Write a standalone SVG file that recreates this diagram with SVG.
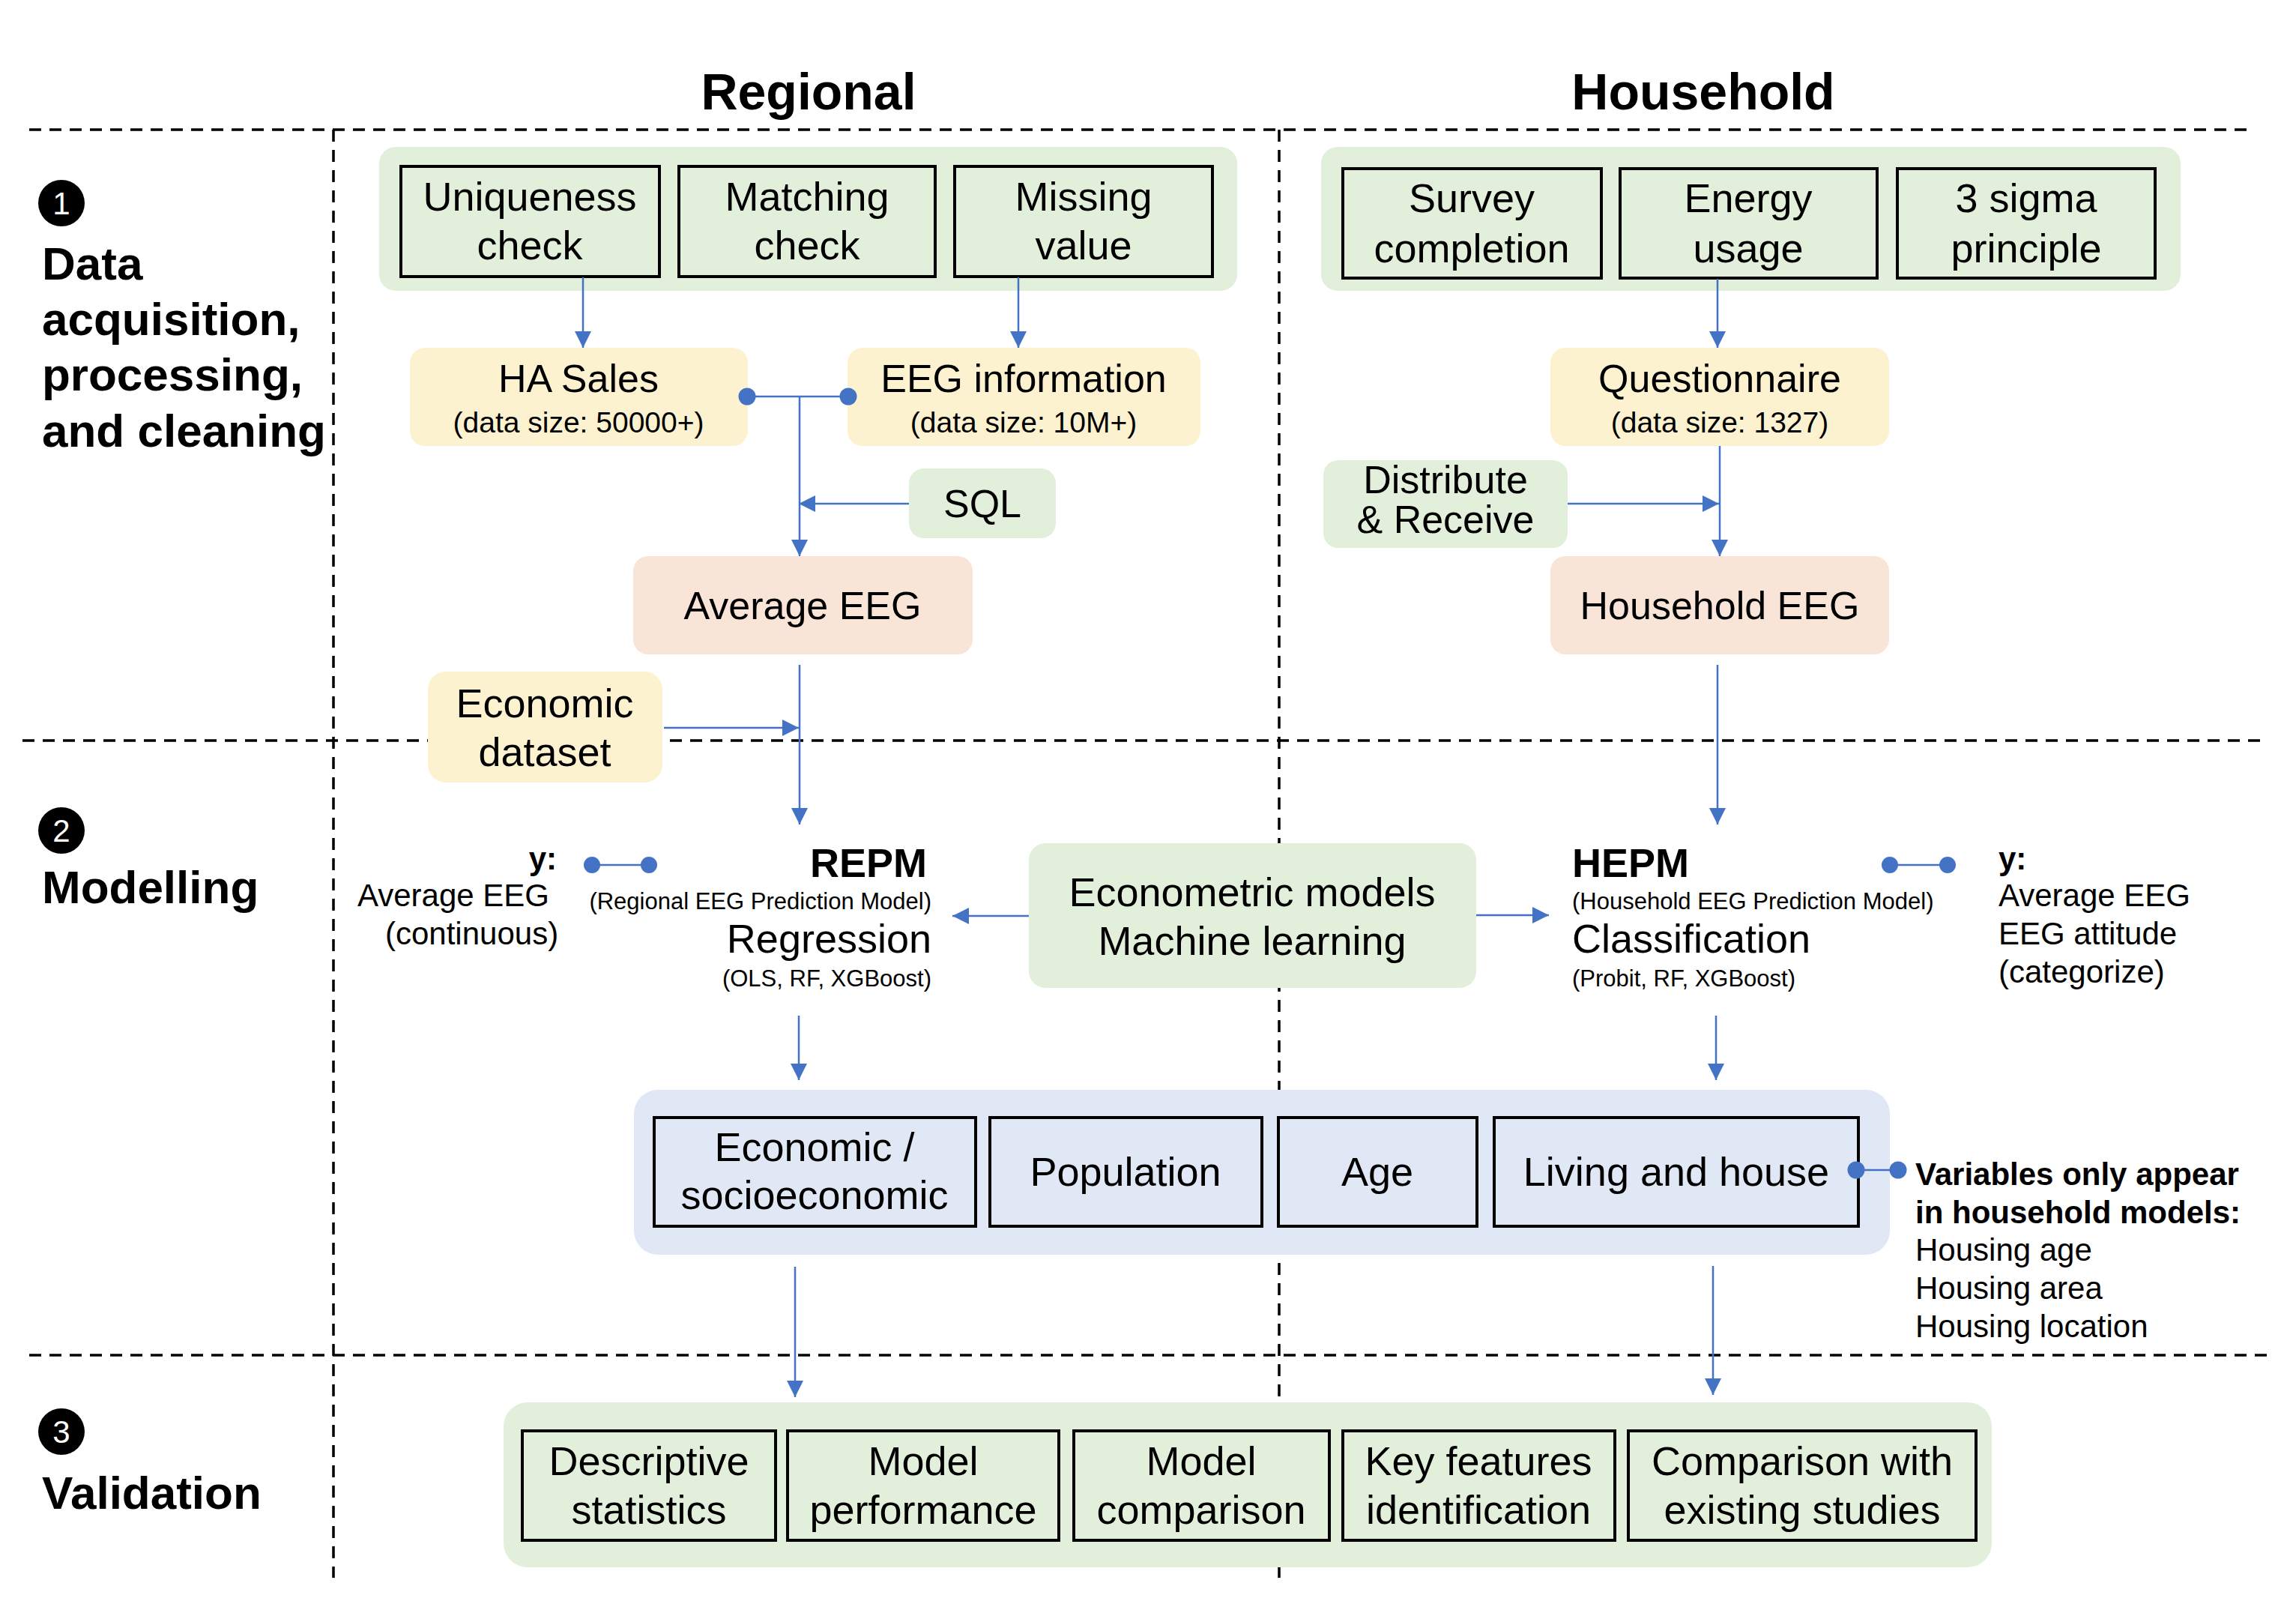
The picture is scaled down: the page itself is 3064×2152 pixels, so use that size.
<svg xmlns="http://www.w3.org/2000/svg" width="3064" height="2152" viewBox="0 0 3064 2152">
<defs>
<style>
text{font-family:"Liberation Sans",Arial,sans-serif;fill:#000}
.dash{stroke:#000;stroke-width:3.5;stroke-dasharray:16 11;fill:none}
.grn{fill:#E2EFDA}
.yel{fill:#FDF2D0}
.pch{fill:#F9E5D7}
.blu{fill:#DFE8F4}
.box{fill:none;stroke:#000;stroke-width:4}
.c{text-anchor:middle}
.e{text-anchor:end}
.b{font-weight:bold}
.t68{font-size:68px}
.t62{font-size:62px}
.t54{font-size:54px}
.t52{font-size:52px}
.t42{font-size:42px}
.t39{font-size:39px}
.t31{font-size:31px}
.con{stroke:#4472C4;stroke-width:2.5;fill:none}
.arr{marker-end:url(#ah)}
.dot{fill:#4472C4}
</style>
<marker id="ah" viewBox="0 0 22 22" refX="22" refY="11" markerWidth="22" markerHeight="22" markerUnits="userSpaceOnUse" orient="auto">
<path d="M0,0 L22,11 L0,22 Z" fill="#4472C4"/>
</marker>
</defs>
<rect width="3064" height="2152" fill="#fff"/>

<g id="grid">
<line class="dash" x1="39" y1="173" x2="3000" y2="173"/>
<line class="dash" x1="30" y1="988" x2="3020" y2="988"/>
<line class="dash" x1="39" y1="1808" x2="3025" y2="1808"/>
<line class="dash" x1="445" y1="173" x2="445" y2="2105"/>
<line class="dash" x1="1707" y1="173" x2="1707" y2="2105"/>
</g>

<g id="headers">
<text class="t68 b c" x="1079" y="146">Regional</text>
<text class="t68 b c" x="2273" y="146">Household</text>
</g>

<g id="stage1">
<circle cx="82" cy="271" r="31" fill="#000"/>
<text class="t42 c" x="82" y="286" style="fill:#fff">1</text>
<text class="t62 b" x="56" y="373">Data</text>
<text class="t62 b" x="56" y="447">acquisition,</text>
<text class="t62 b" x="56" y="521">processing,</text>
<text class="t62 b" x="56" y="596">and cleaning</text>
</g>
<g id="stage2">
<circle cx="82" cy="1108" r="31" fill="#000"/>
<text class="t42 c" x="82" y="1123" style="fill:#fff">2</text>
<text class="t62 b" x="56" y="1205">Modelling</text>
</g>
<g id="stage3">
<circle cx="82" cy="1910" r="31" fill="#000"/>
<text class="t42 c" x="82" y="1925" style="fill:#fff">3</text>
<text class="t62 b" x="56" y="2013">Validation</text>
</g>

<g id="regional-cleaning">
<rect class="grn" x="506" y="196" width="1145" height="192" rx="22"/>
<rect class="box" x="535" y="222" width="345" height="147"/>
<rect class="box" x="906" y="222" width="342" height="147"/>
<rect class="box" x="1274" y="222" width="344" height="147"/>
<text class="t54 c" x="707" y="281">Uniqueness</text>
<text class="t54 c" x="707" y="346">check</text>
<text class="t54 c" x="1077" y="281">Matching</text>
<text class="t54 c" x="1077" y="346">check</text>
<text class="t54 c" x="1446" y="281">Missing</text>
<text class="t54 c" x="1446" y="346">value</text>
</g>

<g id="household-cleaning">
<rect class="grn" x="1763" y="196" width="1147" height="192" rx="22"/>
<rect class="box" x="1792" y="225" width="345" height="146"/>
<rect class="box" x="2162" y="225" width="343" height="146"/>
<rect class="box" x="2532" y="225" width="344" height="146"/>
<text class="t54 c" x="1964" y="283">Survey</text>
<text class="t54 c" x="1964" y="350">completion</text>
<text class="t54 c" x="2333" y="283">Energy</text>
<text class="t54 c" x="2333" y="350">usage</text>
<text class="t54 c" x="2704" y="283">3 sigma</text>
<text class="t54 c" x="2704" y="350">principle</text>
</g>

<g id="ha-sales">
<rect class="yel" x="547" y="464" width="451" height="131" rx="20"/>
<text class="t52 c" x="772" y="523">HA Sales</text>
<text class="t39 c" x="772" y="577">(data size: 50000+)</text>
</g>
<g id="eeg-information">
<rect class="yel" x="1131" y="464" width="471" height="131" rx="20"/>
<text class="t52 c" x="1366" y="523">EEG information</text>
<text class="t39 c" x="1366" y="577">(data size: 10M+)</text>
</g>
<g id="questionnaire">
<rect class="yel" x="2069" y="464" width="452" height="131" rx="20"/>
<text class="t52 c" x="2295" y="523">Questionnaire</text>
<text class="t39 c" x="2295" y="577">(data size: 1327)</text>
</g>
<g id="sql">
<rect class="grn" x="1213" y="625" width="196" height="93" rx="20"/>
<text class="t52 c" x="1311" y="690">SQL</text>
</g>
<g id="distribute">
<rect class="grn" x="1766" y="614" width="326" height="117" rx="20"/>
<text class="t52 c" x="1929" y="658">Distribute</text>
<text class="t52 c" x="1929" y="711">&amp; Receive</text>
</g>
<g id="average-eeg">
<rect class="pch" x="845" y="742" width="453" height="131" rx="20"/>
<text class="t52 c" x="1071" y="826">Average EEG</text>
</g>
<g id="household-eeg">
<rect class="pch" x="2069" y="742" width="452" height="131" rx="20"/>
<text class="t52 c" x="2295" y="826">Household EEG</text>
</g>
<g id="economic-dataset">
<rect class="yel" x="571" y="896" width="313" height="148" rx="24"/>
<text class="t54 c" x="727" y="957">Economic</text>
<text class="t54 c" x="727" y="1022">dataset</text>
</g>

<g id="econometric">
<rect class="grn" x="1373" y="1125" width="597" height="193" rx="22"/>
<text class="t54 c" x="1671" y="1209">Econometric models</text>
<text class="t54 c" x="1671" y="1274">Machine learning</text>
</g>

<g id="repm">
<text class="t54 b e" x="1237" y="1170">REPM</text>
<text class="t31 e" x="1243" y="1213">(Regional EEG Prediction Model)</text>
<text class="t54 e" x="1243" y="1271">Regression</text>
<text class="t31 e" x="1243" y="1316">(OLS, RF, XGBoost)</text>
</g>
<g id="repm-y">
<text class="t42 b e" x="743" y="1160">y:</text>
<text class="t42" x="477" y="1209">Average EEG</text>
<text class="t42" x="514" y="1260">(continuous)</text>
</g>

<g id="hepm">
<text class="t54 b" x="2098" y="1170">HEPM</text>
<text class="t31" x="2098" y="1213">(Household EEG Prediction Model)</text>
<text class="t54" x="2098" y="1271">Classification</text>
<text class="t31" x="2098" y="1316">(Probit, RF, XGBoost)</text>
</g>
<g id="hepm-y">
<text class="t42 b" x="2667" y="1160">y:</text>
<text class="t42" x="2667" y="1209">Average EEG</text>
<text class="t42" x="2667" y="1260">EEG attitude</text>
<text class="t42" x="2667" y="1311">(categorize)</text>
</g>

<g id="variables">
<rect class="blu" x="846" y="1454" width="1676" height="220" rx="32"/>
<rect class="box" x="873" y="1491" width="429" height="145"/>
<rect class="box" x="1321" y="1491" width="363" height="145"/>
<rect class="box" x="1706" y="1491" width="265" height="145"/>
<rect class="box" x="1994" y="1491" width="486" height="145"/>
<text class="t54 c" x="1087" y="1549">Economic /</text>
<text class="t54 c" x="1087" y="1613">socioeconomic</text>
<text class="t54 c" x="1502" y="1582">Population</text>
<text class="t54 c" x="1838" y="1582">Age</text>
<text class="t54 c" x="2237" y="1582">Living and house</text>
</g>
<g id="household-vars">
<text class="t42 b" x="2556" y="1581">Variables only appear</text>
<text class="t42 b" x="2556" y="1632">in household models:</text>
<text class="t42" x="2556" y="1682">Housing age</text>
<text class="t42" x="2556" y="1733">Housing area</text>
<text class="t42" x="2556" y="1784">Housing location</text>
</g>

<g id="validation">
<rect class="grn" x="672" y="1871" width="1986" height="220" rx="32"/>
<rect class="box" x="697" y="1909" width="338" height="146"/>
<rect class="box" x="1051" y="1909" width="362" height="146"/>
<rect class="box" x="1433" y="1909" width="341" height="146"/>
<rect class="box" x="1792" y="1909" width="363" height="146"/>
<rect class="box" x="2173" y="1909" width="464" height="146"/>
<text class="t54 c" x="866" y="1968">Descriptive</text>
<text class="t54 c" x="866" y="2033">statistics</text>
<text class="t54 c" x="1232" y="1968">Model</text>
<text class="t54 c" x="1232" y="2033">performance</text>
<text class="t54 c" x="1603" y="1968">Model</text>
<text class="t54 c" x="1603" y="2033">comparison</text>
<text class="t54 c" x="1973" y="1968">Key features</text>
<text class="t54 c" x="1973" y="2033">identification</text>
<text class="t54 c" x="2405" y="1968">Comparison with</text>
<text class="t54 c" x="2405" y="2033">existing studies</text>
</g>

<g id="connectors">
<line class="con arr" x1="778" y1="370" x2="778" y2="464"/>
<line class="con arr" x1="1359" y1="370" x2="1359" y2="464"/>
<line class="con" x1="997" y1="529" x2="1132" y2="529"/>
<circle class="dot" cx="997" cy="529" r="11.5"/>
<circle class="dot" cx="1132" cy="529" r="11.5"/>
<line class="con arr" x1="1067" y1="529" x2="1067" y2="742"/>
<line class="con arr" x1="1213" y1="672" x2="1066" y2="672"/>
<line class="con arr" x1="1067" y1="887" x2="1067" y2="1100"/>
<line class="con arr" x1="886" y1="971" x2="1066" y2="971"/>
<line class="con arr" x1="1373" y1="1222" x2="1271" y2="1222"/>
<line class="con arr" x1="1970" y1="1221" x2="2067" y2="1221"/>
<line class="con" x1="790" y1="1154" x2="866" y2="1154"/>
<circle class="dot" cx="790" cy="1154" r="11"/>
<circle class="dot" cx="866" cy="1154" r="11"/>
<line class="con" x1="2522" y1="1154" x2="2599" y2="1154"/>
<circle class="dot" cx="2522" cy="1154" r="11"/>
<circle class="dot" cx="2599" cy="1154" r="11"/>
<line class="con arr" x1="2292" y1="372" x2="2292" y2="464"/>
<line class="con arr" x1="2295" y1="595" x2="2295" y2="742"/>
<line class="con arr" x1="2092" y1="672" x2="2294" y2="672"/>
<line class="con arr" x1="2292" y1="887" x2="2292" y2="1100"/>
<line class="con arr" x1="1066" y1="1355" x2="1066" y2="1441"/>
<line class="con arr" x1="2290" y1="1355" x2="2290" y2="1441"/>
<line class="con" x1="2477" y1="1561" x2="2533" y2="1561"/>
<circle class="dot" cx="2477" cy="1561" r="11.5"/>
<circle class="dot" cx="2533" cy="1561" r="11.5"/>
<line class="con arr" x1="1061" y1="1690" x2="1061" y2="1864"/>
<line class="con arr" x1="2286" y1="1689" x2="2286" y2="1861"/>
</g>
</svg>
